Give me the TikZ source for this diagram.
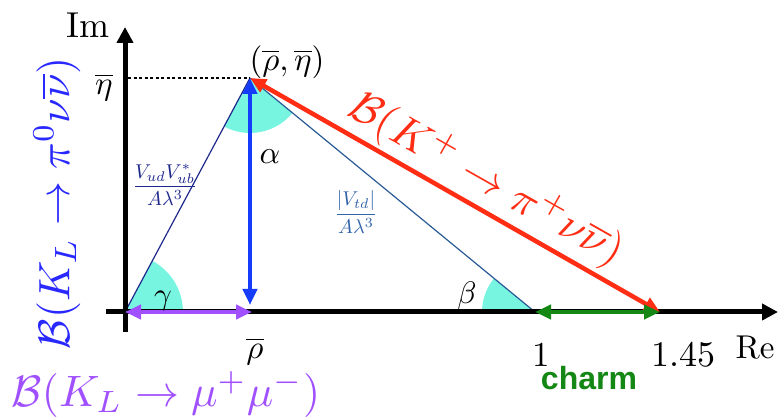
\documentclass[tikz,border=0pt]{standalone}
\usepackage{amsmath}
\usepackage{fontspec}
\newfontfamily\charmfont{Liberation Sans}
\usetikzlibrary{arrows.meta,angles}
\definecolor{wedge}{RGB}{120,245,225}
\definecolor{navyside}{RGB}{30,40,140}
\definecolor{steelside}{RGB}{40,90,150}
\definecolor{arrblue}{RGB}{20,60,250}
\definecolor{arrred}{RGB}{255,45,20}
\definecolor{arrpurple}{RGB}{160,80,255}
\definecolor{arrgreen}{RGB}{20,135,20}
\definecolor{lblblue}{RGB}{40,40,255}
\definecolor{vtdcol}{RGB}{50,100,170}
\begin{document}
\begin{tikzpicture}[x=1pt,y=1pt,
  fs/.style={scale=#1/10},
  axis/.style={line width=5pt,-{Triangle[length=16pt,width=16pt]}},
  dbl/.style={line width=4.5pt,{Triangle[length=16pt,width=14pt]}-{Triangle[length=16pt,width=14pt]}},
  side/.style={line width=1.2pt},
  wedgepic/.style={draw=none,fill=wedge,angle radius=#1}]
\useasboundingbox (0,0) rectangle (782,417);
% points
\coordinate (O) at (125,105);
\coordinate (A) at (250,339);
\coordinate (B1) at (535,105);
\coordinate (B145) at (660,105);
\coordinate (R) at (252,105);
\coordinate (Rtop) at (250,112);
\coordinate (Ytop) at (125,390);
\coordinate (Ybot) at (125,85);
\coordinate (Xl) at (106,105);
\coordinate (Xr) at (778,105);
\coordinate (Dl) at (128,339);
% wedges
\pic[wedgepic=55pt] {angle=O--A--B1};
\pic[wedgepic=58pt] {angle=B1--O--A};
\pic[wedgepic=53pt] {angle=A--B1--O};
% triangle
\draw[side,navyside] (O) -- (A);
\draw[side,steelside] (A) -- (B1);
% dotted
\draw[line width=2.5pt,dash pattern=on 3pt off 2.5pt] (Dl) -- (A);
% axes
\draw[axis] (Ybot) -- (Ytop);
\draw[axis] (Xl) -- (Xr);
% arrows
\draw[dbl,arrblue] (A) -- (Rtop);
\draw[dbl,arrred] (A) -- (B145);
\draw[dbl,arrpurple] (O) -- (R);
\draw[dbl,arrgreen] (B1) -- (B145);
% labels
\node[fs=36] (im) at (88,392) {Im};
\node[fs=33] (etabar) at (104,330) {$\overline{\eta}$};
\node[fs=33] (apex) at (287,355) {$(\overline{\rho},\overline{\eta})$};
\node[fs=32] (alpha) at (270,260) {$\alpha$};
\node[fs=31] (beta) at (467,121) {$\beta$};
\node[fs=31] (gamma) at (163,116) {$\gamma$};
\node[fs=33] (rhobar) at (255,66) {$\overline{\rho}$};
\node[fs=35] (one) at (541,62) {1};
\node[fs=36] (onefortyfive) at (683,62) {1.45};
\node[fs=33] (re) at (755,69) {Re};
\node[fs=32,arrgreen,font=\charmfont\bfseries] (charm) at (589,39) {charm};
\node[fs=20,navyside,inner sep=0pt] (vud) at (165,232) {$\dfrac{V_{ud}V_{ub}^{*}}{A\lambda^{3}}$};
\node[fs=20,vtdcol,inner sep=0pt] (vtd) at (356,205) {$\dfrac{|V_{td}|}{A\lambda^{3}}$};
\node[fs=44,arrpurple] (klmumu) at (166,23) {$\mathcal{B}(K_L\to\mu^{+}\mu^{-})$};
\node[fs=44,lblblue,rotate=90] (klpinn) at (57,214) {$\mathcal{B}(K_L\to\pi^{0}\nu\overline{\nu})$};
\node[fs=44,arrred,rotate=-29.5] (kppinn) at (486,237) {$\mathcal{B}(K^{+}\to\pi^{+}\nu\overline{\nu})$};
\end{tikzpicture}
\end{document}
